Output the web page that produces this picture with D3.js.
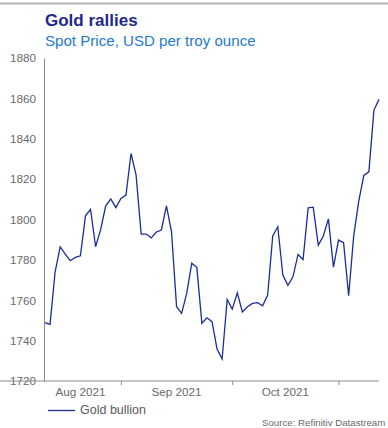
<!DOCTYPE html>
<html>
<head>
<meta charset="utf-8">
<script src="https://cdn.jsdelivr.net/npm/d3@7/dist/d3.min.js"></script>
<style>
  body { margin: 0; background: #fff; }
  svg { display: block; font-family: "Liberation Sans", Arial, sans-serif; }
</style>
</head>
<body>
<div id="container"></div>
<script>
// daily spot price (weekdays)
let goldPrices = [
  1748.9, 1748.1, 1774.1, 1786.5, 1782.9, 1779.6, 1781.2, 1782.0, 1801.8, 1805.0,
  1786.5, 1795.1, 1806.8, 1810.2, 1805.9, 1810.4, 1812.1, 1832.7, 1822.0, 1792.8,
  1792.8, 1790.9, 1793.8, 1794.8, 1806.8, 1793.9, 1756.8, 1753.5, 1763.4, 1778.3,
  1776.3, 1748.6, 1751.3, 1749.4, 1735.8, 1730.9, 1760.4, 1755.6, 1763.7, 1754.2,
  1756.8, 1758.4, 1758.8, 1757.3, 1762.6, 1791.9, 1796.4, 1772.5, 1767.4, 1771.6,
  1782.7, 1780.2, 1805.8, 1806.1, 1787.3, 1791.8, 1800.3, 1776.4, 1789.8, 1788.5,
  1762.2, 1791.9, 1809.1, 1821.8, 1823.6, 1854.2, 1859.5
];

// month boundaries as positions in the weekday series
let monthStarts = [-1, 15, 37, 58];
let monthLabels = ["Aug 2021", "Sep 2021", "Oct 2021"];
let yTicks = [1720, 1740, 1760, 1780, 1800, 1820, 1840, 1860, 1880];

let w = 388;
let h = 428;

let viz = d3.select("#container")
  .append("svg")
    .attr("width", w)
    .attr("height", h)
;

// thin rule at the very top
viz.append("line")
  .attr("x1", 0).attr("x2", w)
  .attr("y1", 3.5).attr("y2", 3.5)
  .attr("stroke", "#b4b4b4")
  .attr("stroke-width", 2);

viz.append("text")
  .attr("x", 45).attr("y", 26)
  .attr("font-size", 17)
  .attr("font-weight", "bold")
  .attr("fill", "#1c2a8c")
  .text("Gold rallies");

viz.append("text")
  .attr("x", 45).attr("y", 46)
  .attr("font-size", 15.1)
  .attr("fill", "#1e7ad0")
  .text("Spot Price, USD per troy ounce");

let xScale = d3.scaleLinear().domain([0, goldPrices.length - 1]).range([45, 379]);
let yScale = d3.scaleLinear().domain([1720, 1880]).range([381, 58]);

// y axis
let yAxisGroup = viz.append("g").attr("transform", "translate(44,0)");
yAxisGroup.call(
  d3.axisLeft(yScale)
    .tickValues(yTicks)
    .tickFormat(d3.format("d"))
    .tickSize(0)
    .tickPadding(8)
);
yAxisGroup.select(".domain").attr("stroke", "#8a8a8a");
yAxisGroup.selectAll("text")
  .attr("fill", "#6a6a6a")
  .attr("font-size", 11.7)
  .attr("font-family", "Liberation Sans, Arial, sans-serif");

// x axis: ticks on month starts, labels centred in each month
let xAxisGroup = viz.append("g").attr("transform", "translate(0,381)");
xAxisGroup.call(
  d3.axisBottom(xScale)
    .tickValues(monthStarts.slice(1))
    .tickFormat("")
    .tickSizeInner(4)
    .tickSizeOuter(0)
);
xAxisGroup.select(".domain").attr("stroke", "#8a8a8a").attr("d", "M-1,0H379");
xAxisGroup.selectAll(".tick line").attr("stroke", "#8a8a8a");

viz.append("g").selectAll("text")
  .data(monthLabels)
  .enter()
  .append("text")
    .attr("x", (d, i) => xScale((monthStarts[i] + monthStarts[i + 1]) / 2))
    .attr("y", 396)
    .attr("text-anchor", "middle")
    .attr("font-size", 11.7)
    .attr("fill", "#6a6a6a")
    .text(d => d);

// the price line
let line = d3.line()
  .x((d, i) => xScale(i))
  .y(d => yScale(d));

viz.append("path")
  .datum(goldPrices)
  .attr("d", line)
  .attr("fill", "none")
  .attr("stroke", "#1a2d97")
  .attr("stroke-width", 1.3)
  .attr("stroke-linejoin", "miter");

// legend
viz.append("line")
  .attr("x1", 48).attr("x2", 75)
  .attr("y1", 410.5).attr("y2", 410.5)
  .attr("stroke", "#1a2d97")
  .attr("stroke-width", 1.3);

viz.append("text")
  .attr("x", 80).attr("y", 414)
  .attr("font-size", 12.5)
  .attr("fill", "#5a5a5a")
  .text("Gold bullion");

viz.append("text")
  .attr("x", 262).attr("y", 426)
  .attr("font-size", 9.7)
  .attr("fill", "#6a6a6a")
  .text("Source: Refinitiv Datastream");
</script>
</body>
</html>
